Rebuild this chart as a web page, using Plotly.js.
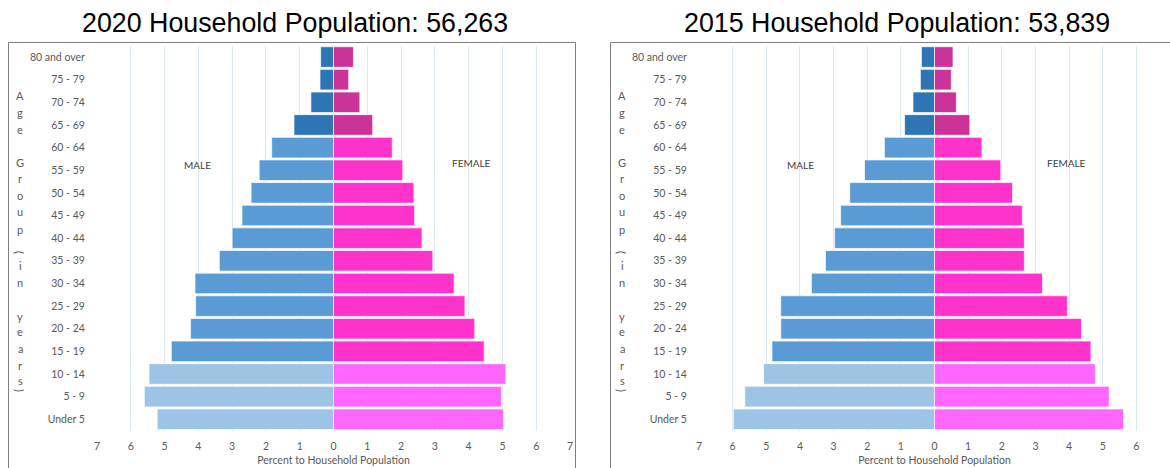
<!DOCTYPE html>
<html>
<head>
<meta charset="utf-8">
<script src="https://cdn.plot.ly/plotly-3.0.1.min.js"></script>
<style>
html,body{margin:0;padding:0;background:#fff;}
#chart{width:1170px;height:468px;}
</style>
</head>
<body>
<div id="chart"></div>
<script>
// ---- Data (bottom to top) ----
const ageGroups = ['Under 5','5 - 9','10 - 14','15 - 19','20 - 24','25 - 29','30 - 34','35 - 39','40 - 44','45 - 49','50 - 54','55 - 59','60 - 64','65 - 69','70 - 74','75 - 79','80 and over'];
const ageBand = ['young','young','young','adult','adult','adult','adult','adult','adult','adult','adult','adult','adult','old','old','old','old'];

const male2020   = [5.22, 5.60, 5.46, 4.80, 4.23, 4.08, 4.10, 3.38, 3.00, 2.71, 2.44, 2.20, 1.83, 1.17, 0.67, 0.40, 0.38];
const female2020 = [5.03, 4.97, 5.10, 4.46, 4.18, 3.89, 3.57, 2.94, 2.62, 2.40, 2.38, 2.05, 1.74, 1.16, 0.78, 0.45, 0.59];
const male2015   = [5.98, 5.64, 5.08, 4.83, 4.57, 4.57, 3.66, 3.24, 2.97, 2.79, 2.52, 2.08, 1.49, 0.89, 0.64, 0.42, 0.39];
const female2015 = [5.62, 5.19, 4.78, 4.65, 4.37, 3.95, 3.21, 2.67, 2.67, 2.61, 2.32, 1.97, 1.41, 1.05, 0.65, 0.50, 0.55];

const titles = ['2020 Household Population: 56,263', '2015 Household Population: 53,839'];
const tickValues = [-7,-6,-5,-4,-3,-2,-1,0,1,2,3,4,5,6,7];
const tickLabels = ['7','6','5','4','3','2','1','0','1','2','3','4','5','6','7'];
const xTitle = 'Percent to Household Population';
const yTitleChars = ['A','g','e','G','r','o','u','p','(','i','n','y','e','a','r','s',')'];

// ---- Styles ----
const maleColors = {young:'#9DC3E6', adult:'#5B9BD5', old:'#2E75B6'};
const femaleColors = {young:'#FF66FF', adult:'#FF33CC', old:'#CC3399'};
const W = 1170, H = 468;
const txtColor = '#595959';
const lblFont = 'Lato, "Open Sans", sans-serif';

function barTrace(vals, sign, colors, xa, ya) {
  return {
    type: 'bar', orientation: 'h',
    y: ageGroups, x: vals.map(v => sign * v),
    xaxis: xa, yaxis: ya,
    marker: {color: ageBand.map(b => colors[b]), line: {color: 'rgba(255,255,255,0.7)', width: 1}},
    hoverinfo: 'skip', showlegend: false
  };
}

const data = [
  barTrace(male2020, -1, maleColors, 'x', 'y'),
  barTrace(female2020, 1, femaleColors, 'x', 'y'),
  barTrace(male2015, -1, maleColors, 'x2', 'y2'),
  barTrace(female2015, 1, femaleColors, 'x2', 'y2')
];

const yDom = [(H - 430.6) / H, (H - 45.7) / H];
function xAxis(dom, anchor) {
  return {
    domain: dom, anchor: anchor, range: [-7, 7],
    tickvals: tickValues, ticktext: tickLabels,
    showgrid: true, gridcolor: '#DCE9F5', gridwidth: 1,
    zeroline: false, showline: false,
    ticks: 'outside', ticklen: 6, tickcolor: 'rgba(0,0,0,0)',
    tickfont: {family: lblFont, size: 10.5, color: txtColor},
    title: {text: xTitle, font: {family: lblFont, size: 10.5, color: txtColor}, standoff: 5},
    fixedrange: true
  };
}
function yAxis(anchor) {
  return {
    domain: yDom, anchor: anchor, type: 'category',
    categoryorder: 'array', categoryarray: ageGroups,
    range: [-0.5, ageGroups.length - 0.5],
    showgrid: false, zeroline: false, showline: false,
    ticks: 'outside', ticklen: 9, tickcolor: 'rgba(0,0,0,0)',
    tickfont: {family: lblFont, size: 10.5, color: txtColor},
    fixedrange: true
  };
}

const annotations = [];
const panels = [
  {xa: 'x', cx: 295, letterX: 20, maleX: -4.04, femaleX: 4.07},
  {xa: 'x2', cx: 896.5, letterX: 622, maleX: -3.98, femaleX: 3.93}
];
const letterY = [96, 112, 129, 162, 178, 195, 212, 229, 252, 265, 282, 316, 331, 348, 365, 380, 390];
panels.forEach((p, i) => {
  annotations.push({
    xref: 'paper', yref: 'paper', x: p.cx / W, y: 1 - 23 / H,
    xanchor: 'center', yanchor: 'middle', showarrow: false,
    text: titles[i], font: {family: '"Liberation Sans", Arial, sans-serif', size: 26.8, color: '#000'}
  });
  annotations.push({
    xref: p.xa, yref: 'paper', x: p.maleX, y: 1 - 165 / H,
    xanchor: 'center', yanchor: 'middle', showarrow: false,
    text: 'MALE', font: {family: lblFont, size: 10, color: '#404040'}
  });
  annotations.push({
    xref: p.xa, yref: 'paper', x: p.femaleX, y: 1 - 162.7 / H,
    xanchor: 'center', yanchor: 'middle', showarrow: false,
    text: 'FEMALE', font: {family: lblFont, size: 10, color: '#404040'}
  });
  yTitleChars.forEach((c, k) => {
    annotations.push({
      xref: 'paper', yref: 'paper', x: p.letterX / W, y: 1 - letterY[k] / H,
      xanchor: 'center', yanchor: 'middle', showarrow: false,
      textangle: (c === '(' || c === ')') ? 90 : 0,
      text: c, font: {family: lblFont, size: 11, color: txtColor}
    });
  });
});

const shapes = [
  {type: 'rect', xref: 'paper', yref: 'paper', x0: 8.5 / W, x1: 575.5 / W, y0: -0.02, y1: 1 - 42.5 / H,
   line: {color: '#7F7F7F', width: 1}, fillcolor: 'rgba(0,0,0,0)', layer: 'below'},
  {type: 'rect', xref: 'paper', yref: 'paper', x0: 610.5 / W, x1: 1.02, y0: -0.02, y1: 1 - 42.5 / H,
   line: {color: '#7F7F7F', width: 1}, fillcolor: 'rgba(0,0,0,0)', layer: 'below'}
];

const layout = {
  width: W, height: H,
  margin: {l: 0, r: 0, t: 0, b: 0, pad: 0},
  paper_bgcolor: '#fff', plot_bgcolor: 'rgba(0,0,0,0)',
  barmode: 'relative', bargap: 0.09,
  xaxis: xAxis([97 / W, 570 / W], 'y'),
  yaxis: yAxis('x'),
  xaxis2: xAxis([699 / W, 1170 / W], 'y2'),
  yaxis2: yAxis('x2'),
  annotations: annotations,
  shapes: shapes,
  showlegend: false
};

Plotly.newPlot('chart', data, layout, {displayModeBar: false, staticPlot: true});
</script>
</body>
</html>
